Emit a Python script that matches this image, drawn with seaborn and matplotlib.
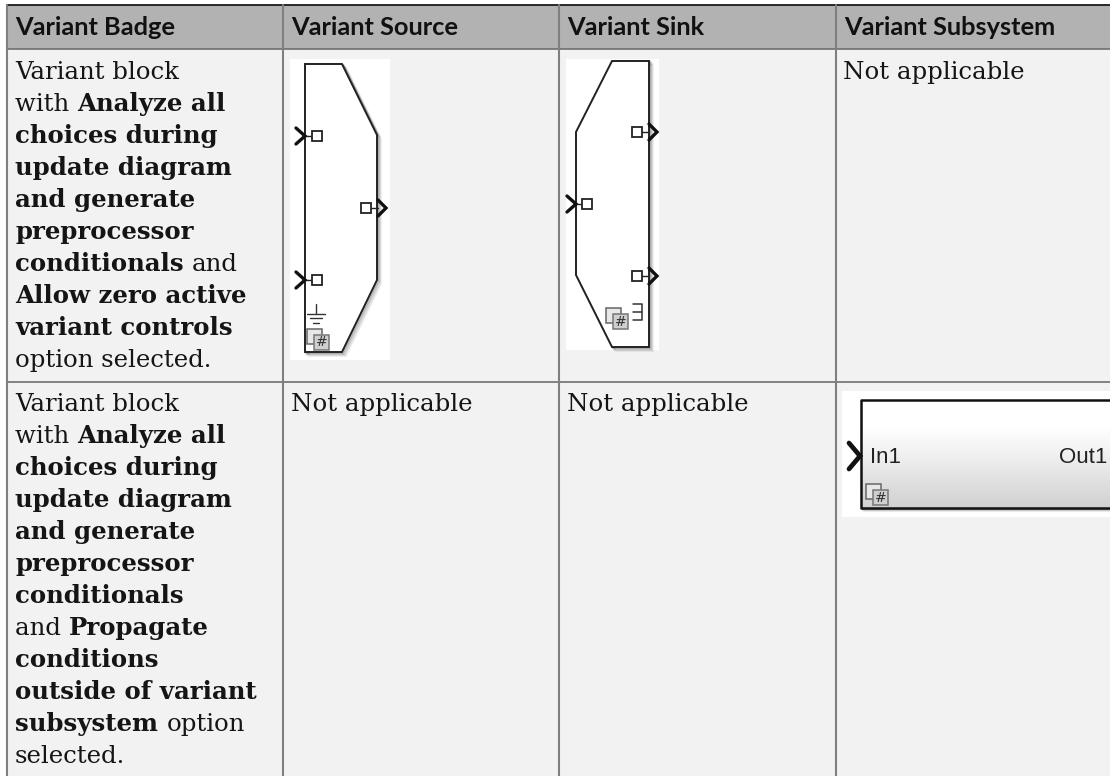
import seaborn as sns
import matplotlib.pyplot as plt
import numpy as np
from matplotlib.patches import Rectangle, Polygon

headers = ["Variant Badge", "Variant Source", "Variant Sink", "Variant Subsystem"]
col_edges = [7, 283, 559, 836, 1112]
row_edges = [5, 49, 382, 776]
na_text = "Not applicable"

# (text, bold) runs per line
row1_lines = [
    [("Variant block", False)],
    [("with ", False), ("Analyze all", True)],
    [("choices during", True)],
    [("update diagram", True)],
    [("and generate", True)],
    [("preprocessor", True)],
    [("conditionals ", True), ("and", False)],
    [("Allow zero active", True)],
    [("variant controls", True)],
    [("option selected.", False)],
]
row2_lines = [
    [("Variant block", False)],
    [("with ", False), ("Analyze all", True)],
    [("choices during", True)],
    [("update diagram", True)],
    [("and generate", True)],
    [("preprocessor", True)],
    [("conditionals", True)],
    [("and ", False), ("Propagate", True)],
    [("conditions", True)],
    [("outside of variant", True)],
    [("subsystem ", True), ("option", False)],
    [("selected.", False)],
]

BODY = "DejaVu Serif"
BODY_SIZE = 17.6
HEAD = "Lato"
HEAD_SIZE = 18.3
LINE_GAP = 32.0
INK = "#151515"

sns.set_theme(style="white")
plt.rcParams["font.family"] = ["DejaVu Serif", "DejaVu Sans"]

fig = plt.figure(figsize=(11.1, 7.76), dpi=100)
ax = fig.add_axes([0, 0, 1, 1])
ax.axis("off")

# table background
ax.add_patch(Rectangle((col_edges[0], row_edges[1]), col_edges[-1] - col_edges[0],
                       row_edges[-1] - row_edges[1], fc="#f2f2f2", ec="none", zorder=0))
ax.add_patch(Rectangle((col_edges[0], row_edges[0]), col_edges[-1] - col_edges[0],
                       row_edges[1] - row_edges[0], fc="#b2b2b2", ec="none", zorder=0))
ax.plot([col_edges[0], 1112], [row_edges[0]] * 2, color="#1a1a1a", lw=1.3, zorder=1)
for y in row_edges[1:3]:
    ax.plot([col_edges[0], 1112], [y, y], color="#6e6e6e", lw=1.2, zorder=1)
for x in col_edges[:4]:
    ax.plot([x, x], [row_edges[0], 776], color="#7f7f7f", lw=1.5, zorder=1)

for x, h in zip(col_edges, headers):
    ax.text(x + 8, 35, h, family=HEAD, weight="bold", size=HEAD_SIZE, color="#111111")


def draw_runs(x, y, runs):
    renderer = fig.canvas.get_renderer()
    for s, bold in runs:
        t = ax.text(x, y, s, family=BODY, size=BODY_SIZE, color=INK,
                    weight="bold" if bold else "normal")
        x += t.get_window_extent(renderer).width


def shadow(pts):
    p = np.array(pts, float)
    for off, alpha in [(4, 0.05), (3, 0.09), (2, 0.14), (1, 0.2)]:
        ax.add_patch(Polygon(p + off, closed=True, fc="none", ec="black",
                             alpha=alpha, lw=1.6, zorder=2))


def square(x, y, side=10):
    ax.add_patch(Rectangle((x, y - side / 2), side, side, fc="white", ec="#222222", lw=1.3, zorder=5))


def chevron(x, y, w=9, h=8, lw=2.4):
    ax.plot([x, x + w, x], [y - h, y, y + h], color="#111111", lw=lw, zorder=5, solid_joinstyle="miter")


def badge(x, y):
    ax.add_patch(Rectangle((x, y), 15, 15, fc="#e8e8e8", ec="#666666", lw=1.1, zorder=5))
    ax.add_patch(Rectangle((x + 7, y + 6), 15, 15, fc="#cfcfcf", ec="#777777", lw=1.1, zorder=6))
    ax.text(x + 14.5, y + 13.5, "#", family="DejaVu Sans", size=10, color="#333333",
            ha="center", va="center", zorder=7)


# Variant Source
ax.add_patch(Rectangle((290, 59), 100, 301, fc="white", ec="none", zorder=1))
src = [(305, 64), (342, 64), (377, 135), (377, 280), (342, 352), (305, 352)]
shadow(src)
ax.add_patch(Polygon(src, closed=True, fc="white", ec="#222222", lw=1.4, zorder=3))
for y in [136, 280]:
    chevron(296, y)
    ax.plot([305, 312], [y, y], color="#222222", lw=1, zorder=4)
    square(312, y)
square(361, 208)
ax.plot([371, 378], [208, 208], color="#222222", lw=1, zorder=4)
chevron(378, 208, w=8)
ax.plot([316, 316], [304, 314], color="#333333", lw=1, zorder=4)
for half, y in [(9, 314), (6, 318), (3, 323)]:
    ax.plot([316 - half, 316 + half], [y, y], color="#333333", lw=1, zorder=4)
badge(307, 329)

# Variant Sink
ax.add_patch(Rectangle((566, 59), 93, 291, fc="white", ec="none", zorder=1))
snk = [(612, 61), (649, 61), (649, 347), (612, 347), (576, 275), (576, 132)]
shadow(snk)
ax.add_patch(Polygon(snk, closed=True, fc="white", ec="#222222", lw=1.4, zorder=3))
chevron(567, 204)
ax.plot([576, 582], [204, 204], color="#222222", lw=1, zorder=4)
square(582, 204)
for y in [132, 276]:
    square(632, y)
    ax.plot([642, 649], [y, y], color="#222222", lw=1, zorder=4)
    chevron(649, y, w=8)
ax.plot([633, 642, 642, 633], [304, 304, 320, 320], color="#333333", lw=1.1, zorder=4)
ax.plot([633, 642], [312, 312], color="#333333", lw=1.1, zorder=4)
badge(606, 308)

# Variant Subsystem
ax.add_patch(Rectangle((842, 391), 268, 126, fc="white", ec="none", zorder=1))
grad = np.interp(np.linspace(0, 1, 64), [0, 0.25, 1], [1, 1, 0.82]).reshape(-1, 1)
ax.imshow(grad, cmap="gray", vmin=0, vmax=1, extent=(861, 1110, 508, 400), aspect="auto", zorder=2)
for off, alpha in [(3, 0.08), (2, 0.14), (1, 0.22)]:
    ax.plot([861 + off, 1110], [508 + off, 508 + off], color="black", alpha=alpha, lw=1.5, zorder=2)
ax.plot([1110, 861, 861, 1110], [400, 400, 508, 508], color="#111111", lw=1.8, zorder=3)
chevron(849, 456, w=11, h=13, lw=3.4)
ax.text(870, 463, "In1", family="Liberation Sans", size=16, color="#222222", zorder=4)
ax.text(1107, 463, "Out1", family="Liberation Sans", size=16, color="#222222", ha="right", zorder=4)
badge(866, 484)

ax.set_xlim(0, 1110)
ax.set_ylim(776, 0)

for i, runs in enumerate(row1_lines):
    draw_runs(15, 79 + i * LINE_GAP, runs)
for i, runs in enumerate(row2_lines):
    draw_runs(15, 411 + i * LINE_GAP, runs)

draw_runs(col_edges[3] + 7, 79, [(na_text, False)])
draw_runs(col_edges[1] + 8, 411, [(na_text, False)])
draw_runs(col_edges[2] + 8, 411, [(na_text, False)])

sns.despine(ax=ax, left=True, bottom=True)
fig.savefig("out.png", dpi=100)
